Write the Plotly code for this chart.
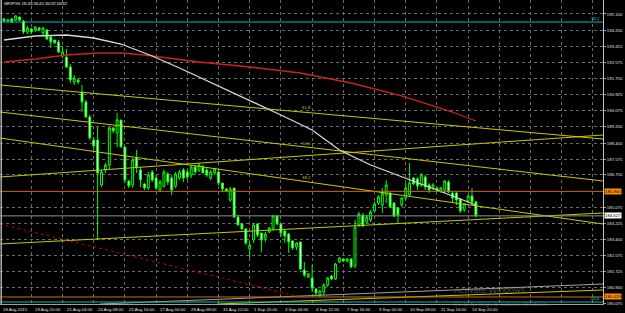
import plotly.graph_objects as go

# ---------------- data ----------------
bar_idx = list(range(122))

opens = [194.840,194.736,194.840,194.788,194.944,194.736,194.166,194.321,194.270,194.373,
         194.114,194.270,193.906,193.751,193.647,192.921,192.869,192.350,191.572,191.676,
         191.053,190.534,189.756,188.563,188.563,186.228,187.006,187.266,189.185,188.926,
         189.600,188.200,186.436,186.228,187.629,187.006,186.280,186.073,186.903,186.591,
         185.969,186.177,186.799,186.591,186.177,186.591,187.006,186.903,186.747,187.162,
         187.006,187.162,187.006,186.591,186.851,186.903,186.332,186.021,185.450,186.073,
         184.568,184.205,183.945,182.908,183.375,184.205,183.738,183.479,183.790,183.945,
         184.620,184.205,183.842,183.686,183.323,183.012,183.271,181.818,181.455,181.403,
         180.833,180.522,180.677,181.040,181.507,181.351,182.233,182.389,182.285,182.389,
         182.026,184.153,184.672,184.309,184.412,184.879,185.294,185.191,185.709,185.813,
         185.294,185.035,185.191,185.554,185.709,186.591,186.539,186.228,186.643,186.228,
         186.073,186.073,185.917,185.969,186.384,185.813,185.813,185.502,184.931,185.398,
         185.658,185.354]
highs = [194.892,194.840,194.892,195.048,194.944,194.788,194.477,194.373,194.477,194.425,
         194.425,194.321,193.958,193.751,193.751,193.388,193.284,192.506,191.935,191.779,
         191.416,190.638,189.860,188.718,189.237,187.006,187.370,189.237,189.237,189.964,
         189.600,188.200,186.488,187.629,188.044,187.162,186.332,186.903,187.006,186.747,
         186.488,187.006,186.903,186.747,186.903,187.006,187.110,187.006,187.266,187.266,
         187.370,187.266,187.110,187.006,187.110,187.006,186.332,186.073,186.125,186.073,
         184.672,184.257,183.997,183.271,184.257,184.257,183.738,183.790,184.049,184.672,
         184.672,184.257,183.894,183.738,183.375,183.271,183.271,182.233,181.663,182.078,
         180.885,180.781,181.144,181.455,181.559,182.182,182.493,182.441,182.441,182.441,
         184.412,184.827,184.776,184.672,184.931,185.346,185.709,186.073,186.488,185.865,
         185.346,185.087,185.606,186.332,187.370,186.643,186.643,186.851,186.747,186.332,
         186.332,186.125,186.125,186.488,186.488,185.865,185.865,185.554,185.294,185.709,
         186.073,185.411]
lows = [194.685,194.685,194.633,194.736,194.736,194.062,194.062,194.062,194.166,194.218,
        194.010,193.751,193.336,193.543,193.076,192.817,192.298,191.520,191.416,191.468,
        190.015,189.704,188.563,188.044,183.375,186.125,186.851,187.006,188.926,188.200,
        188.200,186.332,186.073,186.073,186.851,186.125,185.969,185.969,186.384,185.969,
        185.865,186.073,186.228,185.709,186.073,186.488,186.384,186.488,186.591,186.747,
        186.903,186.851,186.643,186.488,186.747,186.228,185.865,185.865,185.346,184.516,
        184.153,183.894,183.115,182.441,183.219,183.530,182.752,183.271,183.738,183.894,
        184.153,183.530,183.219,182.700,182.856,182.856,181.818,181.455,181.403,180.677,
        180.522,180.418,180.522,180.937,181.300,181.300,182.182,182.233,182.233,181.922,
        181.922,184.049,184.049,184.205,184.309,184.827,185.191,184.776,185.294,185.035,
        184.568,184.257,185.087,185.450,185.606,186.228,185.969,186.125,185.969,185.813,
        185.969,185.865,185.813,185.813,185.813,185.346,185.191,184.776,184.827,185.294,
        185.191,184.537]
closes = [194.736,194.788,194.685,194.996,194.788,194.166,194.373,194.166,194.425,194.270,
          194.373,193.803,193.647,193.595,193.128,193.128,192.350,191.676,191.779,191.572,
          190.534,189.756,188.667,188.252,186.851,186.903,187.266,189.185,189.030,189.600,
          188.200,186.488,186.177,187.526,187.162,186.488,186.073,186.747,186.488,186.073,
          186.384,186.903,186.384,185.969,186.799,186.903,186.591,186.643,187.162,186.903,
          187.266,186.851,186.747,186.903,187.058,186.332,186.021,185.917,186.021,184.568,
          184.153,183.945,183.219,183.115,184.153,183.634,183.375,183.686,183.997,184.620,
          184.205,183.738,183.582,183.271,182.960,183.219,181.870,181.559,181.611,180.885,
          180.626,180.729,181.040,181.403,181.351,182.130,182.441,182.285,182.389,181.974,
          184.049,184.724,184.101,184.568,184.827,185.243,185.606,185.813,186.228,185.087,
          184.620,184.672,185.554,186.073,186.332,186.280,186.177,186.747,186.125,185.969,
          186.228,185.969,186.073,186.436,185.865,185.554,185.450,184.879,185.243,185.658,
          185.346,184.627]

# moving averages (read at selected bars)
ma_red_idx = [0, 8, 16, 24, 30, 36, 42, 50, 63, 76, 89, 102, 115, 121]
ma_red_val = [192.609,192.765,192.972,193.076,193.076,192.972,192.817,192.609,192.350,
              192.039,191.520,190.846,190.015,189.549]
ma_white_idx = [0, 8, 16, 23, 30, 38, 45, 50, 63, 71, 79, 86, 94, 103, 111, 121]
ma_white_val = [193.751,193.958,194.010,193.854,193.543,192.921,192.298,191.831,190.638,
                189.860,189.082,188.044,187.266,186.591,185.969,185.191]

# drawn lines: [start bar, end bar], [start price, end price]
fan_x = [-1.03, 153.59]
fan_618 = [191.416, 188.615]
fan_500 = [190.015, 186.436]
fan_382 = [188.667, 184.205]
chan_up1 = [186.643, 188.822]
chan_up2 = [183.167, 184.776]
low_yellow_x = [54.6, 153.59]
low_yellow = [180.054, 180.781]
low_grey_x = [24.6, 153.59]
low_grey = [180.054, 181.092]
red_dot_x = [-1.03, 75.9]
red_dot = [184.205, 180.418]

fib_label_bar = 75.9
fib_labels = ["61.8", "50.0", "38.2"]
fib_label_price = [190.275, 188.407, 186.643]

cyan_levels = [194.685, 180.159]
cyan_texts = ["38.2", "00.0"]
orange_levels = [185.900, 180.419]
bid_price = 184.627

y_ticks = [195.100,194.250,193.415,192.575,191.750,190.925,190.075,189.250,188.400,
           187.575,186.750,185.075,184.225,183.400,182.575,181.725,180.900,180.075]
x_tick_idx = [7,15,23,31,39,47,55,63,71,79,87,95,103,111,119]
x_tick_text = ["19 Aug 20:00","21 Aug 04:00","24 Aug 08:00","25 Aug 16:00","27 Aug 00:00",
               "28 Aug 08:00","31 Aug 12:00","1 Sep 20:00","3 Sep 04:00","4 Sep 12:00",
               "7 Sep 16:00","9 Sep 00:00","10 Sep 08:00","11 Sep 16:00","14 Sep 20:00"]
first_label = "18 Aug 2015"
title_text = "GBPJPY,H4  185.354 185.411 184.537 184.627"

# ---------------- figure ----------------
FONT = "Liberation Sans"
YEL = "#c8c800"
LBL = 4.3
fig = go.Figure()

def seg(x, y, color, width=1, dash="solid"):
    fig.add_trace(go.Scatter(x=x, y=y, mode="lines", line=dict(color=color, width=width, dash=dash),
                             hoverinfo="skip", showlegend=False))

seg(fan_x, fan_618, YEL)
seg(fan_x, fan_500, YEL)
seg(fan_x, fan_382, YEL)
seg(fan_x, chan_up1, YEL)
seg(fan_x, chan_up2, YEL)
seg(low_yellow_x, low_yellow, YEL)
seg(low_grey_x, low_grey, "#a0a0a0")
seg(red_dot_x, red_dot, "#c80000", 1, "dot")

fig.add_trace(go.Candlestick(
    x=bar_idx, open=opens, high=highs, low=lows, close=closes,
    increasing=dict(line=dict(color="#00ff00", width=1), fillcolor="#000000"),
    decreasing=dict(line=dict(color="#00ff00", width=1), fillcolor="#ffffff"),
    whiskerwidth=0, showlegend=False, hoverinfo="skip"))

seg(ma_red_idx, ma_red_val, "#d02020", 1.3)
seg(ma_white_idx, ma_white_val, "#d8d8d8", 1.3)

shapes = []
for lv in cyan_levels:
    shapes.append(dict(type="line", xref="paper", x0=0, x1=1, yref="y", y0=lv, y1=lv,
                       line=dict(color="#00c0c0", width=1.2)))
for lv in orange_levels:
    shapes.append(dict(type="line", xref="paper", x0=0, x1=1, yref="y", y0=lv, y1=lv,
                       line=dict(color="#d06a10", width=1)))
shapes.append(dict(type="line", xref="paper", x0=0, x1=1, yref="y", y0=bid_price, y1=bid_price,
                   line=dict(color="#909090", width=1)))
shapes.append(dict(type="line", xref="paper", x0=0.002, x1=0.002, yref="paper", y0=0, y1=1,
                   line=dict(color="#b0b0b0", width=1.5)))

ann = []
ann.append(dict(x=0.003, y=1, xref="paper", yref="paper", xanchor="left", yanchor="top",
                text=title_text, showarrow=False, font=dict(family=FONT, size=3, color="#ffffff")))
for t, p in zip(fib_labels, fib_label_price):
    ann.append(dict(x=fib_label_bar, y=p, xref="x", yref="y", xanchor="left", yanchor="middle",
                    text=t, showarrow=False, font=dict(family=FONT, size=LBL, color=YEL)))
for t, p in zip(cyan_texts, cyan_levels):
    ann.append(dict(x=1, y=p, xref="paper", yref="y", xanchor="right", yanchor="bottom",
                    text=t, showarrow=False, xshift=-1, yshift=-1,
                    font=dict(family=FONT, size=LBL, color="#00d0d0")))
for p in orange_levels:
    ann.append(dict(x=1, y=p, xref="paper", yref="y", xanchor="left", yanchor="middle",
                    text=f"{p:.3f}", showarrow=False, xshift=1, bgcolor="#ff8c00", borderpad=0,
                    font=dict(family=FONT, size=LBL, color="#000000")))
ann.append(dict(x=1, y=bid_price, xref="paper", yref="y", xanchor="left", yanchor="middle",
                text=f"{bid_price:.3f}", showarrow=False, xshift=1, bgcolor="#ffffff", borderpad=0,
                font=dict(family=FONT, size=LBL, color="#000000")))
ann.append(dict(x=0, y=0, xref="x", yref="paper", xanchor="left", yanchor="top", text=first_label,
                showarrow=False, xshift=-3, yshift=-1, font=dict(family=FONT, size=LBL, color="#e0e0e0")))
for k, t in zip(x_tick_idx, x_tick_text):
    ann.append(dict(x=k, y=0, xref="x", yref="paper", xanchor="left", yanchor="top", text=t,
                    showarrow=False, xshift=2, yshift=-1, font=dict(family=FONT, size=LBL, color="#e0e0e0")))
ann.append(dict(x=0.75, y=0.045, xref="paper", yref="paper", xanchor="left", yanchor="middle",
                text="Activate Windows", showarrow=False,
                font=dict(family=FONT, size=9, color="rgba(170,170,170,0.45)")))
ann.append(dict(x=0.75, y=0.0, xref="paper", yref="paper", xanchor="left", yanchor="middle",
                text="Go to Settings to activate Windows.", showarrow=False,
                font=dict(family=FONT, size=6, color="rgba(170,170,170,0.45)")))

fig.update_layout(
    width=625, height=313, margin=dict(l=0, r=22, t=0, b=9),
    paper_bgcolor="#000000", plot_bgcolor="#000000",
    shapes=shapes, annotations=ann, showlegend=False,
    xaxis=dict(range=[-1.03, 153.59], tickvals=x_tick_idx + [127, 135, 143, 151],
               showticklabels=False, ticks="", showgrid=True, gridcolor="#6a6a6a",
               griddash="dot", gridwidth=1, zeroline=False, showline=True,
               linecolor="#a0a0a0", linewidth=1, rangeslider=dict(visible=False), fixedrange=True),
    yaxis=dict(range=[180.055, 195.826], side="right", tickvals=y_ticks,
               ticktext=[f"{v:.3f}" for v in y_ticks], tickfont=dict(family=FONT, size=LBL, color="#e0e0e0"),
               ticks="outside", ticklen=2, tickcolor="#a0a0a0", showgrid=True, gridcolor="#6a6a6a",
               griddash="dot", gridwidth=1, zeroline=False, showline=True, linecolor="#c0c0c0",
               linewidth=1, fixedrange=True),
)

fig.write_html("out.html")
